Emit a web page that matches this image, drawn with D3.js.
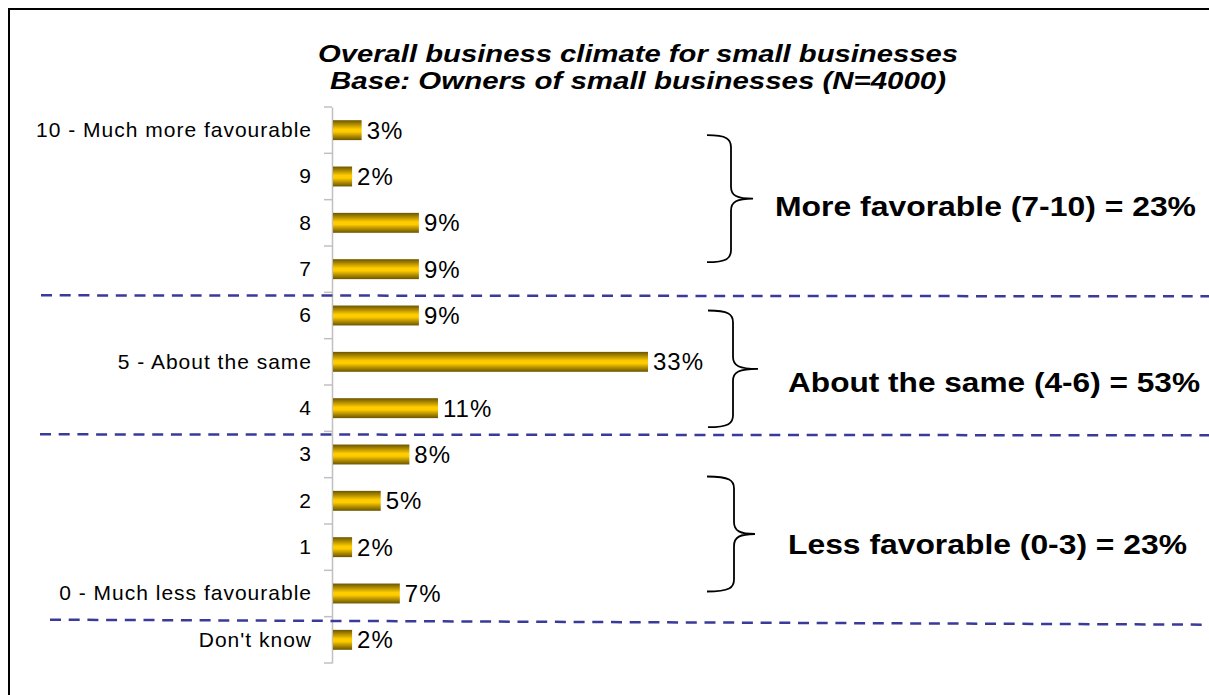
<!DOCTYPE html>
<html>
<head>
<meta charset="utf-8">
<script src="https://cdn.jsdelivr.net/npm/d3@7"></script>
<style>
  html, body { margin: 0; padding: 0; background: #fff; }
  svg { display: block; font-family: "Liberation Sans", Arial, sans-serif; }
</style>
</head>
<body>
<svg id="chart" width="1209" height="695"></svg>
<script>
// Survey categories (top to bottom) and share of respondents (%)
const categories = [
  "10 - Much more favourable", "9", "8", "7", "6", "5 - About the same",
  "4", "3", "2", "1", "0 - Much less favourable", "Don't know"
];
const values = [3, 2, 9, 9, 9, 33, 11, 8, 5, 2, 7, 2];

// Summary groups shown with braces
const groupFirst = ["10 - Much more favourable", "6", "3"];
const groupLast  = ["7", "4", "0 - Much less favourable"];
const groupLabels = [
  "More favorable (7-10) = 23%",
  "About the same (4-6) = 53%",
  "Less favorable (0-3) = 23%"
];

// Dashed separators sit below these categories
const separatorAfter = ["7", "4", "0 - Much less favourable"];

const titleLines = [
  "Overall business climate for small businesses",
  "Base: Owners of small businesses (N=4000)"
];

const svg = d3.select("#chart");

// Outer frame
svg.append("rect")
  .attr("x", 9).attr("y", 9)
  .attr("width", 1300).attr("height", 800)
  .attr("fill", "none").attr("stroke", "#000").attr("stroke-width", 2);

// Bar gradient (dark edges, bright gold centre)
const defs = svg.append("defs");
const grad = defs.append("linearGradient")
  .attr("id", "gold").attr("x1", 0).attr("y1", 0).attr("x2", 0).attr("y2", 1);
[[0, "#6b5400"], [0.22, "#b38f00"], [0.45, "#ffcc00"], [0.58, "#ffcc00"],
 [0.8, "#b08c00"], [1, "#6b5400"]].forEach(([o, c]) =>
  grad.append("stop").attr("offset", o).attr("stop-color", c));

// Scales
const y = d3.scaleBand()
  .domain(categories)
  .range([107, 663])
  .paddingInner(0.57)
  .paddingOuter(0.285);
const x = d3.scaleLinear().domain([0, 33]).range([333, 648]);
const step = y.step();
const bw = y.bandwidth();
const yTop = c => y(c) - y.paddingOuter() * step;   // top edge of a category slot
const yMid = c => y(c) + bw / 2;

// Title
svg.append("g").selectAll("text")
  .data(titleLines)
  .join("text")
  .attr("x", 638)
  .attr("y", (d, i) => 62 + i * 27)
  .attr("text-anchor", "middle")
  .attr("font-size", 24.5)
  .attr("font-weight", "bold")
  .attr("font-style", "italic")
  .attr("textLength", (d, i) => i === 0 ? 640 : 616)
  .attr("lengthAdjust", "spacingAndGlyphs")
  .text(d => d);

// Category axis
const axis = svg.append("g")
  .attr("transform", "translate(332,0)")
  .call(d3.axisLeft(y).tickSize(0).tickSizeOuter(0).tickPadding(20));
axis.select(".domain").attr("stroke", "#c0c0c0").attr("stroke-width", 1.5);
axis.selectAll("text")
  .attr("font-size", 21)
  .attr("letter-spacing", 1)
  .attr("fill", "#000")
  .attr("font-family", "Liberation Sans, Arial, sans-serif");

// Tick marks on slot boundaries
svg.append("g").selectAll("line")
  .data(d3.range(categories.length + 1))
  .join("line")
  .attr("x1", 324).attr("x2", 332)
  .attr("y1", i => y.range()[0] + i * step)
  .attr("y2", i => y.range()[0] + i * step)
  .attr("stroke", "#c0c0c0").attr("stroke-width", 1.5);

// Bars
const rows = categories.map((c, i) => ({ c, v: values[i] }));
svg.append("g").selectAll("rect")
  .data(rows)
  .join("rect")
  .attr("x", x(0))
  .attr("y", d => y(d.c))
  .attr("width", d => x(d.v) - x(0))
  .attr("height", bw)
  .attr("fill", "url(#gold)");

// Value labels
svg.append("g").selectAll("text")
  .data(rows)
  .join("text")
  .attr("x", d => x(d.v) + 5)
  .attr("y", d => yMid(d.c))
  .attr("dy", "0.36em")
  .attr("font-size", 24)
  .attr("letter-spacing", 1)
  .text(d => d.v + "%");

// Dashed separators (slightly sloped towards the right)
const sepStart = [41, 40, 50];
const sepTilt = [1, 1, 5];
svg.append("g").selectAll("line")
  .data(separatorAfter)
  .join("line")
  .attr("x1", (d, i) => sepStart[i])
  .attr("x2", 1209)
  .attr("y1", d => yTop(d) + step + 3)
  .attr("y2", (d, i) => yTop(d) + step + 3 + sepTilt[i])
  .attr("stroke", "#3a3a9a")
  .attr("stroke-width", 2.5)
  .attr("stroke-dasharray", "11 7.7");

// Curly braces with group summaries
const braceTopOff = [5, -5, 22];
const braceBotOff = [-7, 19, -2];
const braceX0 = [707, 708, 707];
const braceXv = [731, 733, 734];
const braceXt = [753, 758, 755];
const labelX = [775, 788, 788];
const labelWidth = [421, 412, 399];
const labelShift = [17, 23, 20];

function bracePath(x0, y0, y1, xv, xt) {
  const ym = (y0 + y1) / 2;
  const r = 12;
  return `M${x0},${y0}` +
    `C${xv - 4},${y0} ${xv},${y0 + 4} ${xv},${y0 + r}` +
    `L${xv},${ym - r}` +
    `C${xv},${ym - 3} ${xv + 6},${ym} ${xt},${ym}` +
    `C${xv + 6},${ym} ${xv},${ym + 3} ${xv},${ym + r}` +
    `L${xv},${y1 - r}` +
    `C${xv},${y1 - 4} ${xv - 4},${y1} ${x0},${y1}`;
}

const braces = svg.append("g");
groupLabels.forEach((label, i) => {
  const y0 = yMid(groupFirst[i]) + braceTopOff[i];
  const y1 = yMid(groupLast[i]) + braceBotOff[i];
  braces.append("path")
    .attr("d", bracePath(braceX0[i], y0, y1, braceXv[i], braceXt[i]))
    .attr("fill", "none")
    .attr("stroke", "#000")
    .attr("stroke-width", 1.8);
  braces.append("text")
    .attr("x", labelX[i])
    .attr("y", (y0 + y1) / 2 + labelShift[i])
    .attr("font-size", 27)
    .attr("font-weight", "bold")
    .attr("textLength", labelWidth[i])
    .attr("lengthAdjust", "spacingAndGlyphs")
    .text(label);
});
</script>
</body>
</html>
